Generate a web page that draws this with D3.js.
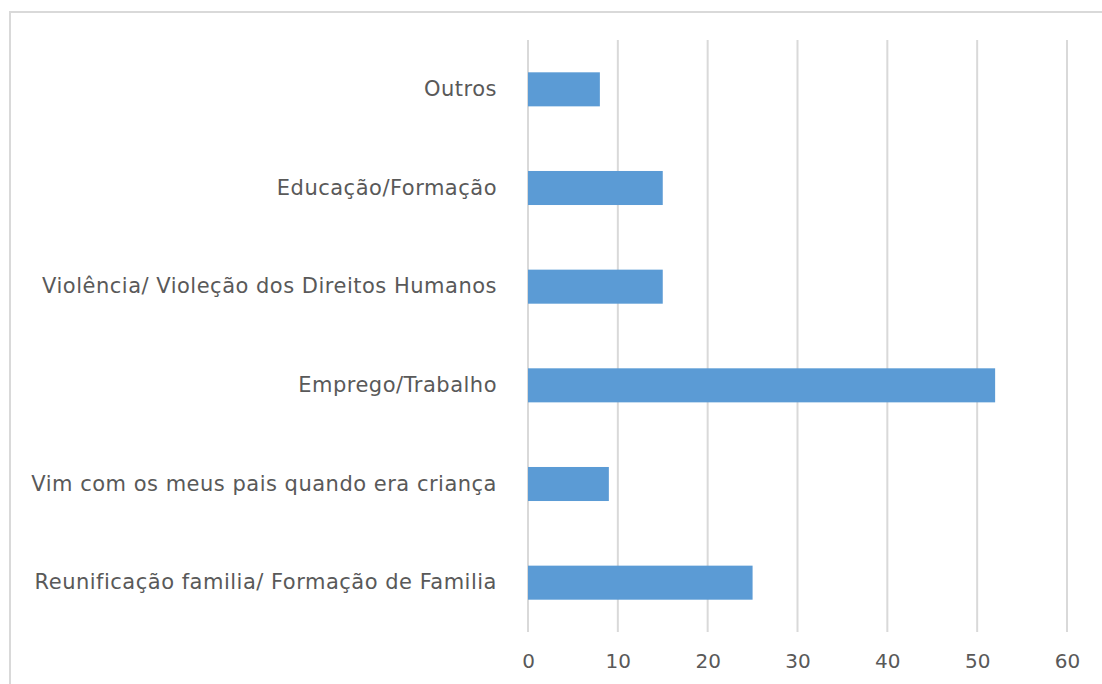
<!DOCTYPE html>
<html>
<head>
<meta charset="utf-8">
<script src="https://cdn.jsdelivr.net/npm/d3@7"></script>
<style>
  body { margin: 0; background: #fff; }
  svg { display: block; }
</style>
</head>
<body>
<svg id="chart" width="1102" height="684"></svg>
<script>
// categories, bottom to top as in the picture
let categories = [
    "Reunificação familia/ Formação de Familia",
    "Vim com os meus pais quando era criança",
    "Emprego/Trabalho",
    "Violência/ Violeção dos Direitos Humanos",
    "Educação/Formação",
    "Outros"
];
let values = [25, 9, 52, 15, 15, 8];
let tickValues = [0, 10, 20, 30, 40, 50, 60];

let svg = d3.select("#chart");

// chart frame (bottom and right edge are outside the picture)
svg.append("rect")
    .attr("x", 10)
    .attr("y", 12)
    .attr("width", 1100)
    .attr("height", 700)
    .attr("fill", "#fff")
    .attr("stroke", "#d9d9d9")
    .attr("stroke-width", 2);

let x = d3.scaleLinear().domain([0, 60]).range([528, 1067]);
let y = d3.scaleBand()
    .domain(categories.slice().reverse())
    .range([40, 632])
    .paddingInner(0.655)
    .paddingOuter(0.3275);

// vertical gridlines
svg.append("g")
    .selectAll("line")
    .data(tickValues).enter()
    .append("line")
    .attr("x1", function (d) { return x(d); })
    .attr("x2", function (d) { return x(d); })
    .attr("y1", 40)
    .attr("y2", 632)
    .attr("stroke", "#d9d9d9")
    .attr("stroke-width", 2);

// bars
svg.append("g")
    .selectAll("rect")
    .data(categories).enter()
    .append("rect")
    .attr("x", x(0))
    .attr("y", function (d) { return y(d); })
    .attr("width", function (d, i) { return x(values[i]) - x(0); })
    .attr("height", y.bandwidth())
    .attr("fill", "#5b9bd5");

// x axis (labels only)
let xAxis = svg.append("g")
    .attr("transform", "translate(0,632)")
    .call(d3.axisBottom(x).tickValues(tickValues).tickSize(0).tickPadding(22));
xAxis.select(".domain").remove();
xAxis.selectAll("text")
    .attr("fill", "#595959")
    .style("font-family", "'DejaVu Sans', sans-serif")
    .style("font-size", "20px");

// y axis (category labels only)
let yAxis = svg.append("g")
    .attr("transform", "translate(528,0)")
    .call(d3.axisLeft(y).tickSize(0).tickPadding(31));
yAxis.select(".domain").remove();
yAxis.selectAll("text")
    .attr("fill", "#595959")
    .style("font-family", "'DejaVu Sans', sans-serif")
    .style("font-size", "21px")
    .style("letter-spacing", "0.5px");
</script>
</body>
</html>
